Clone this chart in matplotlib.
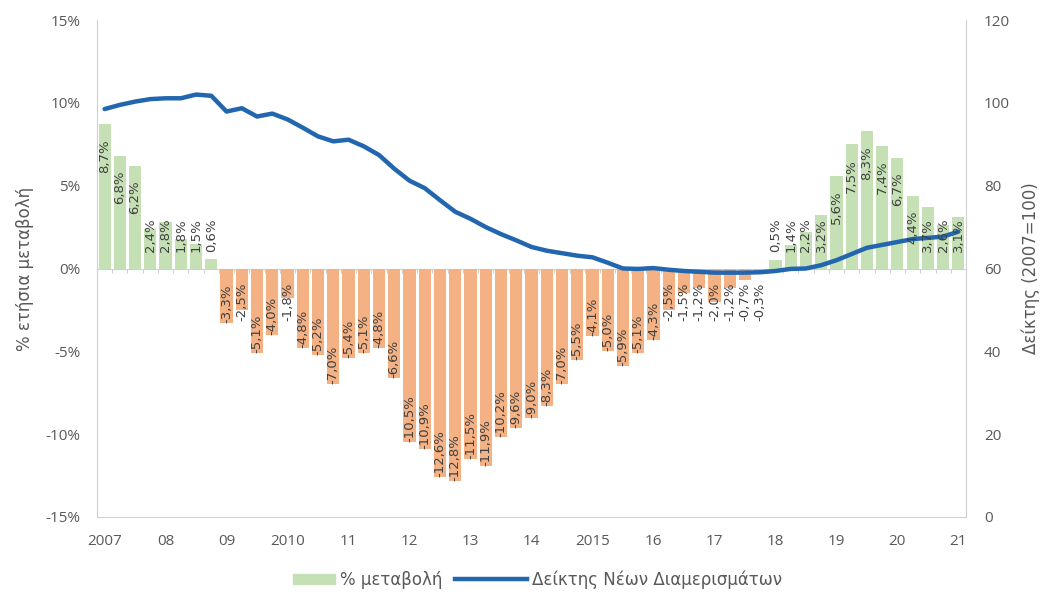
import matplotlib
matplotlib.use('Agg')
import matplotlib.pyplot as plt
from matplotlib.patches import Patch, Rectangle
from matplotlib.lines import Line2D
from matplotlib.legend_handler import HandlerPatch

plt.rcParams['font.family'] = ['Open Sans', 'DejaVu Sans']
WIDE = ['DejaVu Sans']

# quarterly series, 2007Q1 - 2021Q1
years = ['2007', '08', '09', '2010', '11', '12', '13', '14', '2015',
         '16', '17', '18', '19', '20', '21']

change = [8.7, 6.8, 6.2, 2.4,
          2.8, 1.8, 1.5, 0.6,
          -3.3, -2.5, -5.1, -4.0,
          -1.8, -4.8, -5.2, -7.0,
          -5.4, -5.1, -4.8, -6.6,
          -10.5, -10.9, -12.6, -12.8,
          -11.5, -11.9, -10.2, -9.6,
          -9.0, -8.3, -7.0, -5.5,
          -4.1, -5.0, -5.9, -5.1,
          -4.3, -2.5, -1.5, -1.2,
          -2.0, -1.2, -0.7, -0.3,
          0.5, 1.4, 2.2, 3.2,
          5.6, 7.5, 8.3, 7.4,
          6.7, 4.4, 3.7, 2.6,
          3.1]

index = [98.5, 99.5, 100.3, 100.9,
         101.1, 101.1, 102.0, 101.7,
         97.9, 98.7, 96.7, 97.4,
         96.0, 94.0, 91.9, 90.7,
         91.1, 89.5, 87.4, 84.1,
         81.2, 79.4, 76.5, 73.7,
         72.0, 70.0, 68.3, 66.8,
         65.2, 64.3, 63.7, 63.1,
         62.7, 61.4, 60.0, 59.9,
         60.1, 59.7, 59.4, 59.2,
         59.0, 59.0, 59.0, 59.1,
         59.4, 59.9, 60.0, 60.8,
         62.0, 63.5, 65.0, 65.7,
         66.4, 67.1, 67.4, 67.7,
         68.9]

green = '#c5e0b4'
orange = '#f4b183'
blue = '#2166ae'
grey = '#595959'
axis_grey = '#d0d0d0'

x = list(range(len(change)))
colors = [green if v >= 0 else orange for v in change]

fig = plt.figure(figsize=(10.45, 5.99), dpi=100)
ax = fig.add_axes([0.0928, 0.1369, 0.8316, 0.8297])
ax.bar(x, change, width=0.8, color=colors, zorder=2)
ax.set_xlim(-0.5, len(change) - 0.5)
ax.set_ylim(-15, 15)
ax.set_yticks(range(-15, 16, 5))
ax.set_yticklabels([f'{t}%' for t in range(-15, 16, 5)])
ax.set_xticks(range(0, len(change), 4))
ax.set_xticklabels(years)
ax.tick_params(axis='both', length=0, colors=grey, labelsize=11)
ax.tick_params(axis='y', pad=12)
ax.tick_params(axis='x', pad=12)
for s in ['left', 'bottom']:
    ax.spines[s].set_color(axis_grey)
ax.spines['top'].set_visible(False)
ax.spines['right'].set_visible(False)
ax.set_ylabel('% ετήσια μεταβολή', color=grey, fontsize=12, family=WIDE,
              labelpad=8)

# category axis crossing at 0% with small ticks between the bars
zero_axis = ax.secondary_xaxis(0.5)
zero_axis.set_xticks([i - 0.5 for i in range(1, len(change))])
zero_axis.set_xticklabels([])
zero_axis.tick_params(direction='in', length=3, color=axis_grey)
for sp in zero_axis.spines.values():
    sp.set_color(axis_grey)

ax2 = ax.twinx()
ax2.plot(x, index, color=blue, lw=3.2, solid_joinstyle='round',
         solid_capstyle='round', zorder=3)
ax2.set_ylim(0, 120)
ax2.set_yticks(range(0, 121, 20))
ax2.tick_params(length=0, colors=grey, labelsize=11, pad=13)
ax2.spines['right'].set_color(axis_grey)
for s in ['top', 'left', 'bottom']:
    ax2.spines[s].set_visible(False)
ax2.set_ylabel('Δείκτης (2007=100)', color=grey, fontsize=12, family=WIDE,
               labelpad=8)

# rotated value labels, placed inside the bar end when they fit
labels = [f'{v:.1f}'.replace('.', ',') + '%' for v in change]
texts = [ax2.text(i, v, s, transform=ax.transData, rotation=90,
                  ha='center', va='top', fontsize=9.5, family=WIDE,
                  color='#404040', zorder=5)
         for i, (v, s) in enumerate(zip(change, labels))]

fig.canvas.draw()
to_data = ax.transData.inverted()
for t, v in zip(texts, change):
    bb = t.get_window_extent()
    h = to_data.transform((0, bb.y1))[1] - to_data.transform((0, bb.y0))[1]
    if v >= 0:
        top = max(v - 0.9, 1.0 + h)
    else:
        top = v + h if h + 0.2 <= -v else -0.85
    t.set_y(top)


def short_patch(legend, orig_handle, xdescent, ydescent, width, height,
                fontsize):
    w = width * 0.58
    return Rectangle((-xdescent + width - w, -ydescent), w, height)


handles = [Patch(color=green), Line2D([], [], color=blue, lw=3.2)]
fig.legend(handles, ['% μεταβολή', 'Δείκτης Νέων Διαμερισμάτων'],
           loc='center', bbox_to_anchor=(0.5, 0.032), ncol=2,
           frameon=False, prop={'family': WIDE, 'size': 12},
           labelcolor=grey, handlelength=4.3, handleheight=0.6,
           handletextpad=0.3, columnspacing=0.8,
           handler_map={Patch: HandlerPatch(patch_func=short_patch)})

fig.savefig('out.png', dpi=100)
